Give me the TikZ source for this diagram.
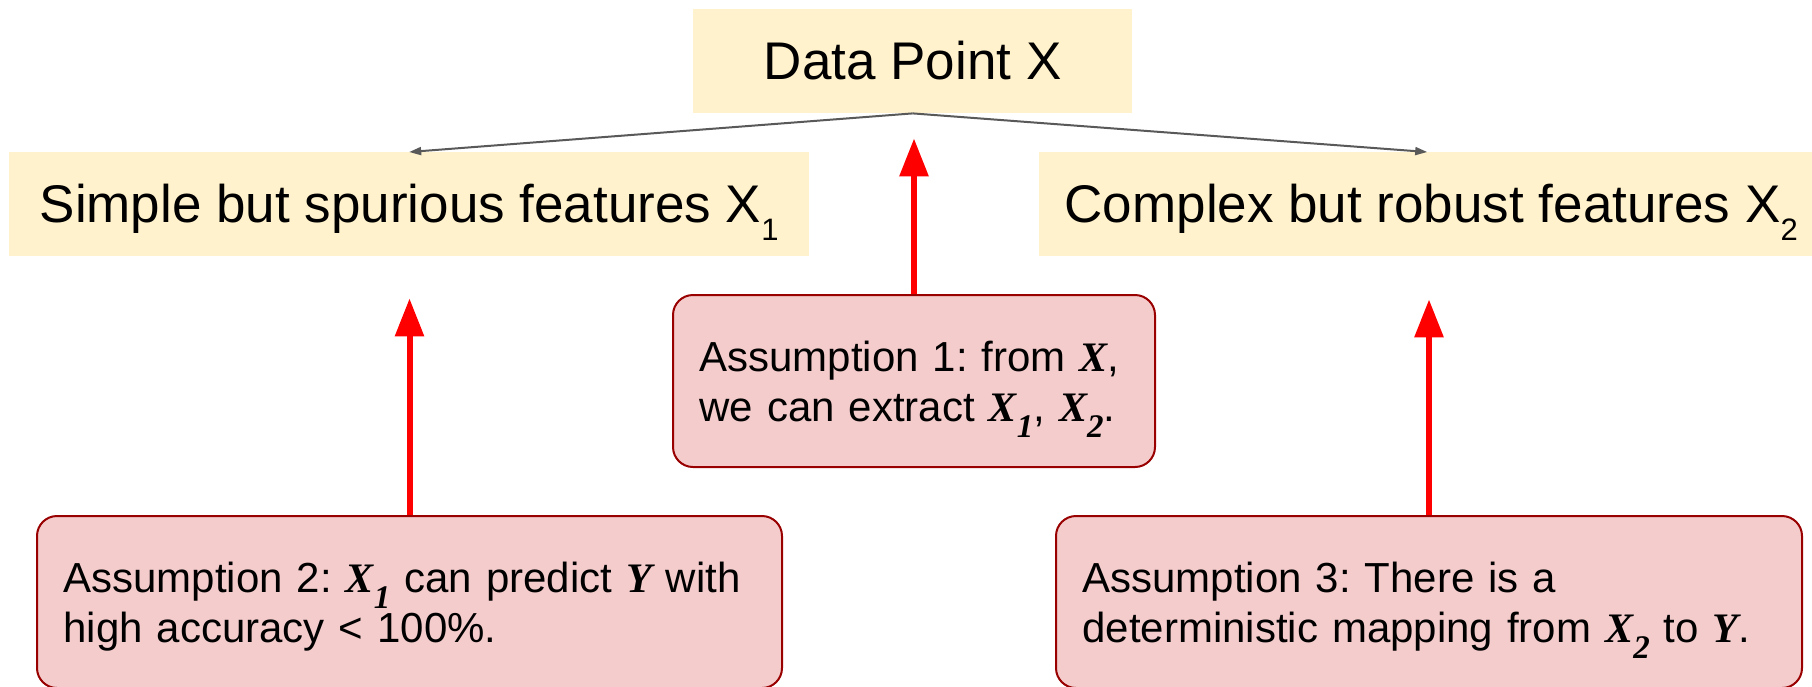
\documentclass[tikz,border=0pt]{standalone}
\usepackage{fontspec}
\setmainfont{Liberation Sans}
\newfontfamily\varfont{Liberation Serif}
\usetikzlibrary{arrows.meta,calc}
\frenchspacing

\definecolor{featfill}{HTML}{FFF2CC}
\definecolor{asmfill}{HTML}{F4CCCC}
\definecolor{asmedge}{HTML}{990000}
\definecolor{linkgray}{HTML}{595959}

% variables in bold italic serif, subscripts lowered below the baseline
\newcommand\mvar[1]{{\varfont\bfseries\itshape #1}}
\newcommand\ysub[1]{\raisebox{-18pt}{\fontsize{31}{31}\selectfont #1}}
\newcommand\vsub[1]{\raisebox{-16pt}{\fontsize{33}{33}\selectfont\varfont\bfseries\itshape #1}}
% struts fixing the first baseline and the depth of the last line
\newcommand\firstline{\rule{0pt}{50pt}}
\newcommand\lastline{\rule[-20pt]{0pt}{20pt}}

\begin{document}
\begin{tikzpicture}[x=1pt,y=-1pt,
  feature/.style={fill=featfill, draw=none, inner sep=0pt, anchor=north west,
    minimum height=104pt, text height=40pt, text depth=4pt,
    font=\fontsize{53}{60}\selectfont},
  assumption/.style={fill=asmfill, draw=asmedge, line width=2pt,
    rounded corners=20pt, anchor=north west, minimum height=172pt,
    inner ysep=0pt, inner xsep=26.5pt, align=left,
    font=\fontsize{42}{50}\selectfont},
  link/.style={draw=linkgray, line width=2pt, -{Triangle[length=12pt,width=8pt]}},
  support/.style={draw=red, line width=6pt, -{Triangle[length=38pt,width=28pt]}}]

\useasboundingbox (0,0) rectangle (1812,686);

% feature boxes
\node[feature, minimum width=439pt] (data) at (693,9) {Data Point X};
\node[feature, minimum width=800pt] (simple) at (9,152)
  {Simple but spurious features X\ysub{1}};
\node[feature, minimum width=784pt] (robust) at (1039,152)
  {Complex but robust features X\ysub{2}};

% assumption boxes
\node[assumption, text width=429pt] (a1) at (672,294)
  {\firstline Assumption 1: from \mvar{X},\\
   we can extract \mvar{X}\vsub{1}, \mvar{X}\vsub{2}.\lastline};
\node[assumption, text width=692pt] (a2) at (36,515)
  {\firstline Assumption 2: \mvar{X}\vsub{1} can predict \mvar{Y} with\\
   high accuracy < 100\%.\lastline};
\node[assumption, text width=693pt] (a3) at (1055,515)
  {\firstline Assumption 3: There is a\\
   deterministic mapping from \mvar{X}\vsub{2} to \mvar{Y}.\lastline};

% decomposition links
\draw[link] (data.south) -- (simple.north);
\draw[link] (data.south) -- ([xshift=-4pt]robust.north);

% assumptions pointing at what they concern
\coordinate (tip1) at ([yshift=-25pt]data.south);
\coordinate (tip2) at ([yshift=-42pt]simple.south);
\coordinate (tip3) at ([yshift=-43pt]robust.south);
\draw[support] (a1.north) -- (a1.north |- tip1);
\draw[support] (a2.north) -- (a2.north |- tip2);
\draw[support] (a3.north) -- (a3.north |- tip3);
\end{tikzpicture}
\end{document}
